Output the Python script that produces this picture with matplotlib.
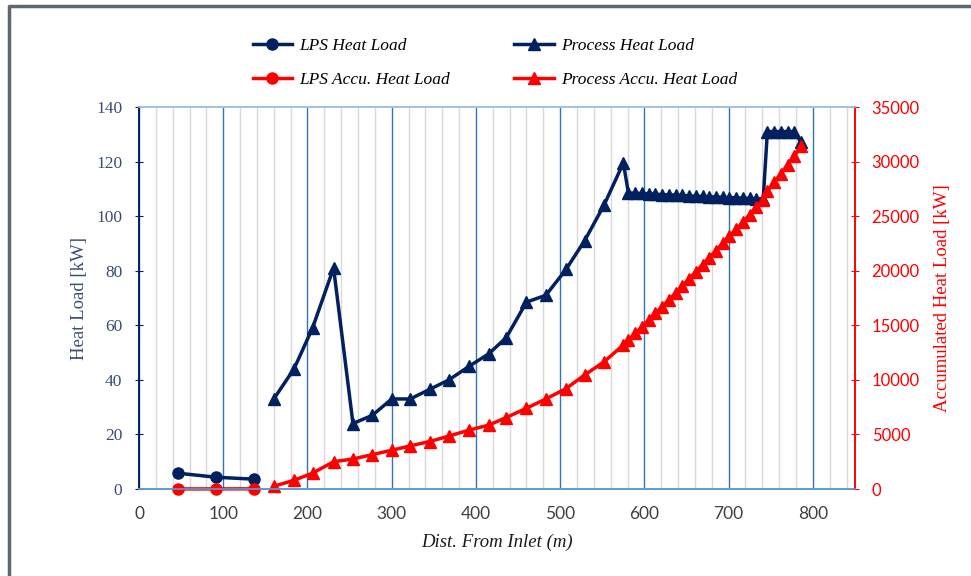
import matplotlib
matplotlib.use("Agg")
import matplotlib.pyplot as plt
from matplotlib.lines import Line2D
from matplotlib.ticker import MultipleLocator

# ---------------- data ----------------
lps_x = [46, 92, 137]
lps_heat = [5.8, 4.3, 3.6]
lps_accu = [6, 10, 14]

process_x = [160, 184, 206, 231, 254, 277, 300, 322, 345, 368, 392, 415, 436, 460,
             483, 507, 529, 552, 575,
             581, 589, 597, 605, 613, 621, 629, 637, 645, 653, 661, 669, 677, 685,
             693, 701, 709, 717, 725, 733, 741,
             746, 754, 762, 770, 778, 786]
process_heat = [33, 44, 59, 81, 24, 27, 33, 33, 36.5, 40, 45, 49.5, 55.5, 68.5,
                71, 80.5, 91, 104, 119.5,
                108.5, 108.4, 108.3, 108.2, 108.0, 107.9, 107.8, 107.7, 107.6, 107.4,
                107.3, 107.2, 107.1, 107.0, 106.9, 106.8, 106.7, 106.6, 106.5, 106.4, 106.3,
                131, 131, 131, 131, 131, 127]
process_accu = [250, 800, 1450, 2500, 2750, 3150, 3550, 3950, 4350, 4850, 5400, 5850,
                6550, 7400, 8250, 9200, 10450, 11650, 13200,
                13650, 14250, 14850, 15450, 16100, 16700, 17350, 17950, 18600, 19250,
                19900, 20550, 21200, 21850, 22500, 23150, 23800, 24450, 25150, 25800, 26500,
                27300, 28100, 28900, 29700, 30500, 31400]

NAVY = "#002060"
RED = "#FF0000"
SERIF = ["Liberation Serif", "DejaVu Serif"]

fig = plt.figure(figsize=(9.71, 5.76), dpi=100)
W, H = 971, 576

# outer frame (left and top edges visible)
fig.add_artist(Line2D([9 / W, 9 / W, 1.0], [0.0, 1 - 6 / H, 1 - 6 / H],
                      transform=fig.transFigure, color="#5F6673", lw=2.5))

ax = fig.add_axes([139 / W, 1 - 489 / H, (855 - 139) / W, (489 - 107) / H])
ax2 = ax.twinx()

ax.set_xlim(0, 850)
ax.set_ylim(0, 140)
ax2.set_ylim(0, 35000)

# gridlines
ax.xaxis.set_major_locator(MultipleLocator(100))
ax.xaxis.set_minor_locator(MultipleLocator(20))
ax.grid(which="minor", axis="x", color="#D9D9D9", lw=1.0)
ax.grid(which="major", axis="x", color="#2E75B6", lw=1.0)
ax.set_axisbelow(True)
ax.yaxis.set_major_locator(MultipleLocator(20))
ax2.yaxis.set_major_locator(MultipleLocator(5000))

# spines
for a in (ax, ax2):
    a.spines["top"].set_color("#9DC3E6")
    a.spines["bottom"].set_color("#5B9BD5")
    a.spines["left"].set_color(NAVY)
    a.spines["right"].set_color(RED)
    for s in a.spines.values():
        s.set_linewidth(1.2)

ax.tick_params(axis="x", which="both", length=0, pad=12, labelsize=12.5,
               labelcolor="#404040")
for lab in ax.get_xticklabels():
    lab.set_family(["Liberation Sans Narrow", "Lato"])
ax.tick_params(axis="y", direction="inout", length=6, color=NAVY, labelsize=12.5,
               labelcolor="#3C4D73", pad=9)
for lab in ax.get_yticklabels():
    lab.set_family(SERIF)
ax2.tick_params(axis="y", direction="inout", length=6, color=RED, labelsize=12,
                labelcolor=RED, pad=9)
for lab in ax2.get_yticklabels():
    lab.set_family(["Lato", "DejaVu Sans"])

# series
l1, = ax.plot(lps_x, lps_heat, color=NAVY, lw=2.5, marker="o", ms=8,
              label="LPS Heat Load")
l2, = ax.plot(process_x, process_heat, color=NAVY, lw=2.5, marker="^", ms=8,
              label="Process Heat Load")
l3, = ax2.plot(lps_x, lps_accu, color=RED, lw=2.5, marker="o", ms=8,
               label="LPS Accu. Heat Load", clip_on=False)
l4, = ax2.plot(process_x, process_accu, color=RED, lw=2.5, marker="^", ms=8,
               label="Process Accu. Heat Load", clip_on=False)
l1.set_clip_on(False)

ax.set_xlabel("Dist. From Inlet (m)", family=SERIF, style="italic", fontsize=13.5,
              color="#1A1A1A", labelpad=9)
ax.set_ylabel("Heat Load [kW]", family=SERIF, fontsize=13.5, color="#3C4D73",
              labelpad=6)
ax2.set_ylabel("Accumulated Heat Load [kW]", family=SERIF, fontsize=13.5, color=RED,
               labelpad=10)

fig.legend(handles=[l1, l3, l2, l4], ncol=2, loc="center",
           bbox_to_anchor=(495 / W, 1 - 63 / H), frameon=False,
           prop={"family": SERIF, "style": "italic", "size": 12.5},
           handlelength=2.3, columnspacing=3.7, labelspacing=1.05, handletextpad=0.4)

fig.savefig("out.png", dpi=100)
